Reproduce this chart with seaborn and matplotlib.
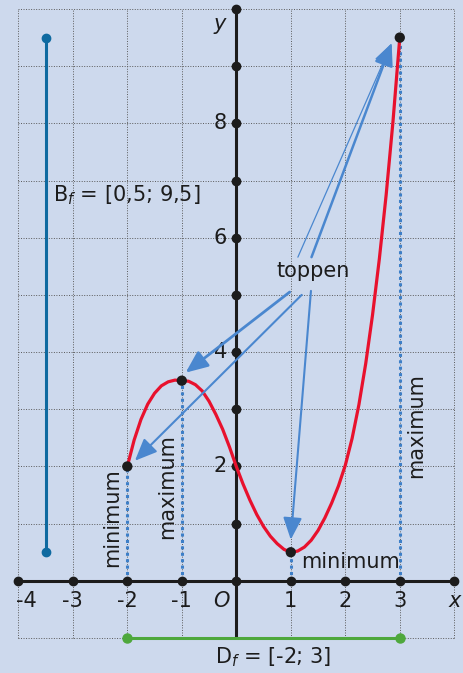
import numpy as np
import pandas as pd
import matplotlib
matplotlib.use("Agg")
import matplotlib.pyplot as plt
import seaborn as sns

# ---- data -------------------------------------------------------------
# graph of f on its domain [-2; 3], sampled every 1/8
curve_x = [-2, -1.875, -1.75, -1.625, -1.5, -1.375, -1.25, -1.125, -1,
           -0.875, -0.75, -0.625, -0.5, -0.375, -0.25, -0.125, 0,
           0.125, 0.25, 0.375, 0.5, 0.625, 0.75, 0.875, 1,
           1.125, 1.25, 1.375, 1.5, 1.625, 1.75, 1.875, 2,
           2.125, 2.25, 2.375, 2.5, 2.625, 2.75, 2.875, 3]
curve_y = [2.0, 2.46, 2.82, 3.09, 3.28, 3.41, 3.48, 3.51, 3.5,
           3.49, 3.43, 3.32, 3.14, 2.91, 2.65, 2.34, 2.0,
           1.69, 1.41, 1.16, 0.95, 0.78, 0.65, 0.55, 0.5,
           0.52, 0.59, 0.71, 0.88, 1.10, 1.36, 1.66, 2.02,
           2.49, 3.08, 3.80, 4.65, 5.63, 6.75, 8.03, 9.5]

# extreme values (toppen)
extreme_x = [-2, -1, 1, 3]
extreme_y = [2, 3.5, 0.5, 9.5]
extreme_kind = ["minimum", "maximum", "minimum", "maximum"]

domain = [-2, 3]          # D_f
value_range = [0.5, 9.5]  # B_f

x_ticks = [-4, -3, -2, -1, 1, 2, 3]
x_tick_labels = ["-4", "-3", "-2", "-1", "1", "2", "3"]
y_ticks = [2, 4, 6, 8]
y_tick_labels = ["2", "4", "6", "8"]
x_axis_dots = [-4, -3, -2, -1, 0, 1, 2, 3, 4]
y_axis_dots = [1, 2, 3, 4, 5, 6, 7, 8, 9, 10]

# ---- style ------------------------------------------------------------
BG = "#cdd9ed"
RED = "#e8112d"
ARROW = "#4a87cf"
DOTBLUE = "#3d7fc8"
RANGEBLUE = "#0f6aa0"
GREEN = "#4ea83c"
INK = "#1c1c1c"

sns.set_style("white", {"axes.facecolor": BG, "figure.facecolor": BG})
plt.rcParams["font.family"] = ["DejaVu Sans"]

fig = plt.figure(figsize=(4.63, 6.73), dpi=100)
ax = fig.add_axes([0, 0, 1, 1])
ax.set_facecolor(BG)
ax.set_xlim(-4.336, 4.160)
ax.set_ylim(-1.612, 10.157)
for s in ax.spines.values():
    s.set_visible(False)
ax.set_xticks([])
ax.set_yticks([])

# dotted grid
grid_kw = dict(color="#5a5a5a", lw=0.7, ls=(0, (1, 1.6)), zorder=1)
for gx in range(-4, 5):
    ax.plot([gx, gx], [-1, 10], **grid_kw)
for gy in range(-1, 11):
    ax.plot([-4, 4], [gy, gy], **grid_kw)

# dotted projections of the extremes onto the x-axis
for ex, ey in zip(extreme_x, extreme_y):
    ax.plot([ex, ex], [0, ey], color=DOTBLUE, lw=2.2, ls=(0, (1.0, 1.1)), zorder=2)

# coordinate axes
ax.plot([-4, 4], [0, 0], color=INK, lw=2.2, zorder=3)
ax.plot([0, 0], [-1, 10], color=INK, lw=2.2, zorder=3)
ax.plot(x_axis_dots, [0] * len(x_axis_dots), "o", color=INK, ms=6, zorder=4)
ax.plot([0] * len(y_axis_dots), y_axis_dots, "o", color=INK, ms=6, zorder=4)

# range B_f and domain D_f
ax.plot([-3.5, -3.5], value_range, color=RANGEBLUE, lw=2.2, zorder=3)
ax.plot([-3.5, -3.5], value_range, "o", color=RANGEBLUE, ms=6, zorder=4)
ax.plot(domain, [-1, -1], color=GREEN, lw=2.2, zorder=3)
ax.plot(domain, [-1, -1], "o", color=GREEN, ms=6.5, zorder=4)

# the graph
df = pd.DataFrame({"x": curve_x, "y": curve_y})
sns.lineplot(data=df, x="x", y="y", color=RED, lw=2.3, sort=False, ax=ax,
             zorder=5, solid_joinstyle="round", solid_capstyle="round")
ax.set_xlabel("")
ax.set_ylabel("")
pts = pd.DataFrame({"x": extreme_x, "y": extreme_y})
sns.scatterplot(data=pts, x="x", y="y", color=INK, s=55, edgecolor="none", ax=ax, zorder=7)
ax.set_xlabel("")
ax.set_ylabel("")

# arrows from the word "toppen"
def arrow(start, tip, lw):
    ax.annotate("", xy=tip, xytext=start,
                arrowprops=dict(arrowstyle="-|>,head_length=0.75,head_width=0.32",
                                color=ARROW, lw=lw, shrinkA=0, shrinkB=0,
                                mutation_scale=18),
                zorder=6)

arrow((0.98, 5.05), (-0.93, 3.64), 2.0)
arrow((1.20, 5.00), (-1.86, 2.10), 1.5)
arrow((1.37, 5.07), (1.00, 0.72), 1.5)
arrow((1.13, 5.66), (2.85, 9.40), 0.9)
arrow((1.38, 5.66), (2.85, 9.40), 1.8)

fs = 15
ax.text(1.41, 5.42, "toppen", fontsize=fs, color=INK, ha="center", va="center", zorder=8)

# labels along the extremes
ax.text(-2.28, 1.10, extreme_kind[0], fontsize=fs, color=INK, rotation=90,
        ha="center", va="center", zorder=8)
ax.text(-1.27, 1.64, extreme_kind[1], fontsize=fs, color=INK, rotation=90,
        ha="center", va="center", zorder=8)
ax.text(3.30, 2.72, extreme_kind[3], fontsize=fs, color=INK, rotation=90,
        ha="center", va="center", zorder=8)
ax.text(2.09, 0.22, extreme_kind[2], fontsize=fs, color=INK,
        ha="center", va="baseline", zorder=8)

# axis tick labels
for tx, tl in zip(x_ticks, x_tick_labels):
    off = 0.14 if tx == -4 else 0.0
    ax.text(tx + off, -0.36, tl, fontsize=fs, color=INK, ha="center", va="center")
ax.text(-0.27, -0.36, "O", fontsize=fs, color=INK, ha="center", va="center", style="italic")
ax.text(4.0, -0.36, "x", fontsize=fs, color=INK, ha="center", va="center", style="italic")
for ty, tl in zip(y_ticks, y_tick_labels):
    ax.text(-0.17, ty, tl, fontsize=fs, color=INK, ha="right", va="center")
ax.text(-0.30, 9.74, "y", fontsize=fs, color=INK, ha="center", va="center", style="italic")

# interval notations
ax.text(-3.36, 6.75, r"B$_f$ = [0,5; 9,5]", fontsize=fs, color=INK, ha="left", va="center")
ax.text(0.67, -1.33, r"D$_f$ = [-2; 3]", fontsize=fs, color=INK, ha="center", va="center")

fig.savefig("out.png", dpi=100, facecolor=BG)
